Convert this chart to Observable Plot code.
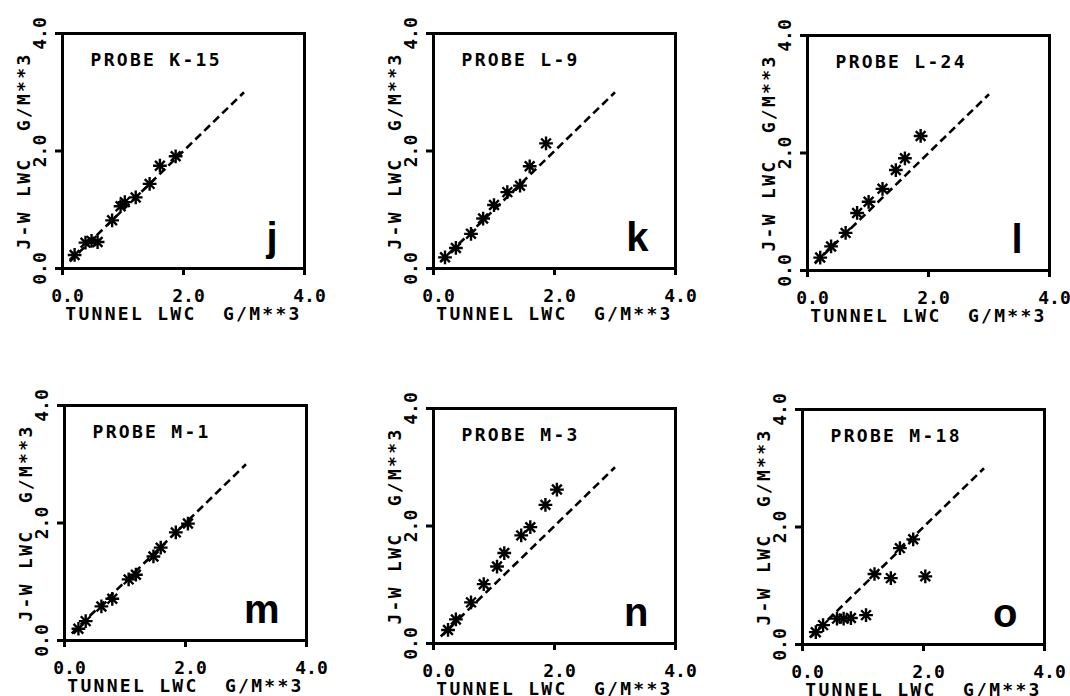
<!DOCTYPE html>
<html>
<head>
<meta charset="utf-8">
<script src="https://cdn.jsdelivr.net/npm/d3@7"></script>
<script src="https://cdn.jsdelivr.net/npm/@observablehq/plot@0.6"></script>
<style>
  html, body { margin: 0; padding: 0; background: #fff; width: 1070px; height: 696px; overflow: hidden; }
  #root { position: relative; width: 1070px; height: 696px; }
  .panel { position: absolute; }
  svg text { white-space: pre; }
</style>
</head>
<body>
<div id="root"></div>
<script>
// ---- data ----
const probeNames = ["PROBE K-15", "PROBE L-9", "PROBE L-24", "PROBE M-1", "PROBE M-3", "PROBE M-18"];
const panelLetters = ["j", "k", "l", "m", "n", "o"];

const tunnelK15 = [0.20, 0.38, 0.48, 0.58, 0.82, 0.96, 1.03, 1.21, 1.44, 1.61, 1.87];
const jwK15     = [0.23, 0.44, 0.47, 0.45, 0.82, 1.06, 1.13, 1.21, 1.44, 1.75, 1.91];

const tunnelL9  = [0.19, 0.37, 0.62, 0.82, 1.00, 1.22, 1.43, 1.59, 1.86];
const jwL9      = [0.19, 0.35, 0.59, 0.85, 1.08, 1.30, 1.41, 1.74, 2.13];

const tunnelL24 = [0.21, 0.39, 0.63, 0.82, 1.01, 1.24, 1.46, 1.61, 1.87];
const jwL24     = [0.22, 0.41, 0.64, 0.98, 1.17, 1.39, 1.71, 1.91, 2.29];

const tunnelM1  = [0.23, 0.35, 0.61, 0.79, 1.06, 1.18, 1.47, 1.59, 1.84, 2.04];
const jwM1      = [0.20, 0.33, 0.58, 0.71, 1.04, 1.12, 1.43, 1.58, 1.84, 1.99];

const tunnelM3  = [0.24, 0.37, 0.62, 0.83, 1.05, 1.17, 1.45, 1.60, 1.85, 2.04];
const jwM3      = [0.23, 0.41, 0.70, 1.01, 1.31, 1.54, 1.84, 1.98, 2.36, 2.62];

const tunnelM18 = [0.22, 0.34, 0.57, 0.68, 0.80, 1.05, 1.19, 1.46, 1.61, 1.83, 2.03];
const jwM18     = [0.21, 0.33, 0.44, 0.44, 0.45, 0.50, 1.20, 1.13, 1.64, 1.79, 1.16];

const refLineX = [0.12, 3.0];
const refLineY = [0.12, 3.0];

const tickValues = [0, 2, 4];
const tickLabels = ["0.0", "2.0", "4.0"];
const xLabel = "TUNNEL LWC  G/M**3";
const yLabel = "J-W LWC  G/M**3";

const seriesX = [tunnelK15, tunnelL9, tunnelL24, tunnelM1, tunnelM3, tunnelM18];
const seriesY = [jwK15, jwL9, jwL24, jwM1, jwM3, jwM18];

// ---- layout (frame top-left in page pixels) ----
const frames = [[62, 33], [433, 33], [807, 35], [64, 405], [433, 408], [802, 409]];
const frameW = 242, frameH = 235;
const mL = 62, mT = 33, mR = 20, mB = 60;

const plotFont = "DejaVu Sans Mono";
const root = document.getElementById("root");
const spacedTexts = new Set([xLabel, yLabel, ...probeNames]);

for (let p = 0; p < 6; p++) {
  const xs = seriesX[p], ys = seriesY[p];
  const chart = Plot.plot({
    width: mL + frameW + mR,
    height: mT + frameH + mB,
    marginLeft: mL, marginTop: mT, marginRight: mR, marginBottom: mB,
    style: {fontFamily: plotFont, fontSize: "18px", fontWeight: "bold", color: "#000", background: "transparent", overflow: "visible"},
    x: {domain: [0, 4]},
    y: {domain: [0, 4]},
    marks: [
      Plot.frame({stroke: "#000", strokeWidth: 3}),
      Plot.axisX({ticks: tickValues, tickSize: 7, strokeWidth: 3, tickFormat: () => "", label: null}),
      Plot.axisY({ticks: tickValues, tickSize: 7, strokeWidth: 3, tickFormat: () => "", label: null}),
      Plot.text(tickValues, {x: (d) => d, text: (d, i) => tickLabels[i], frameAnchor: "bottom", dy: 28, dx: 5, lineAnchor: "middle", textAnchor: "middle", fontSize: 18, fill: "#000"}),
      Plot.text(tickValues, {y: (d) => d, text: (d, i) => tickLabels[i], frameAnchor: "left", dx: -22, rotate: -90, lineAnchor: "middle", textAnchor: "middle", fontSize: 18, fill: "#000"}),
      Plot.text([xLabel], {text: (d) => d, frameAnchor: "bottom", dy: 46, lineAnchor: "middle", textAnchor: "middle", fill: "#000"}),
      Plot.text([yLabel], {text: (d) => d, frameAnchor: "left", dx: -38, rotate: -90, lineAnchor: "middle", textAnchor: "middle", fill: "#000"}),
      Plot.text([probeNames[p]], {text: (d) => d, frameAnchor: "top-left", dx: 28, dy: 32, textAnchor: "start", lineAnchor: "bottom", fill: "#000"}),
      Plot.text([panelLetters[p]], {text: (d) => d, frameAnchor: "bottom-right", dx: -27, dy: -18, textAnchor: "end", lineAnchor: "bottom", fontFamily: "Liberation Sans", fontWeight: "bold", fontSize: 40, fill: "#000"}),
      Plot.line(refLineX, {x: refLineX, y: refLineY, stroke: "#000", strokeWidth: 2.6, strokeDasharray: "8,4.5", strokeLinecap: "butt"}),
      Plot.dot(xs, {x: xs, y: ys, symbol: "plus", r: 4.5, stroke: "#000", strokeWidth: 2.4}),
      Plot.dot(xs, {x: xs, y: ys, symbol: "times", r: 4.5, stroke: "#000", strokeWidth: 2.4}),
      Plot.dot(xs, {x: xs, y: ys, r: 2.6, fill: "#000", stroke: null})
    ]
  });
  d3.select(chart).selectAll("text")
    .filter(function () { return spacedTexts.has(this.textContent); })
    .style("letter-spacing", "2.3px");
  const div = document.createElement("div");
  div.className = "panel";
  div.style.left = (frames[p][0] - mL) + "px";
  div.style.top = (frames[p][1] - mT) + "px";
  div.appendChild(chart);
  root.appendChild(div);
}
</script>
</body>
</html>
